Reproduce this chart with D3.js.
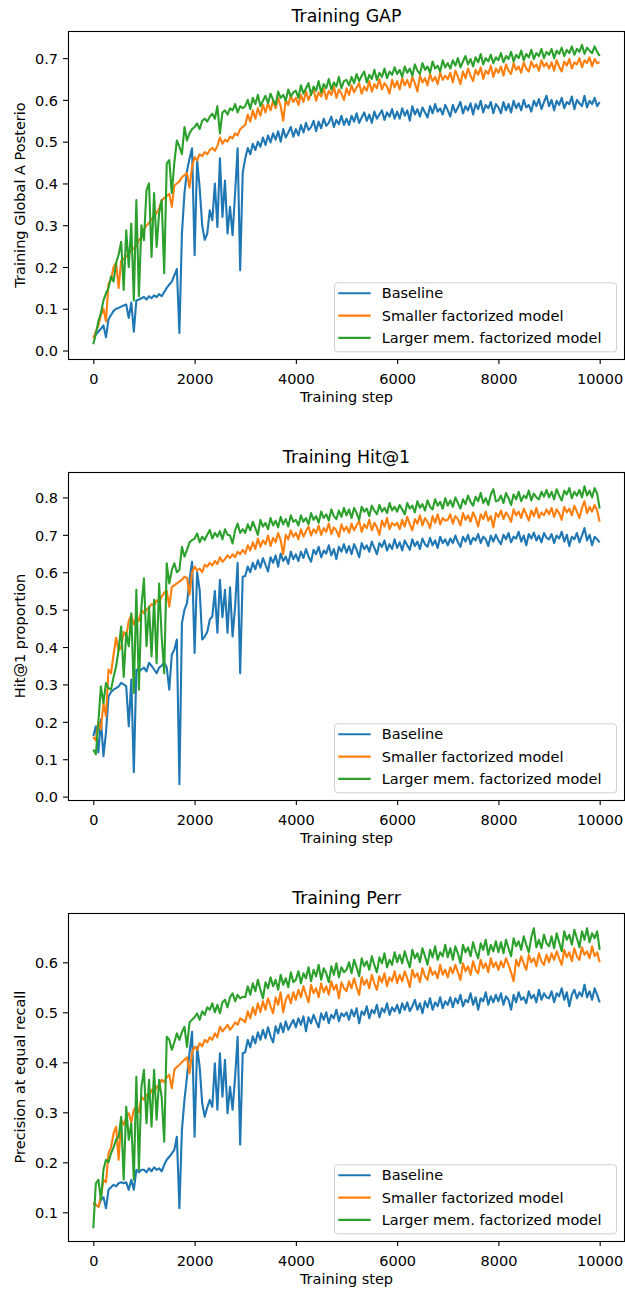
<!DOCTYPE html>
<html>
<head>
<meta charset="utf-8">
<script src="https://cdn.jsdelivr.net/npm/d3@7"></script>
<style>
body { margin: 0; background: #fff; }
text { font-family: "DejaVu Sans", sans-serif; fill: #000; }
</style>
</head>
<body>
<svg id="chart" width="625" height="1290"></svg>
<script>

// training steps, one value every 50 steps
var steps = d3.range(0, 10001, 50);
var seriesNames = ["Baseline", "Smaller factorized model", "Larger mem. factorized model"];
var seriesColors = ["#1f77b4", "#ff7f0e", "#2ca02c"];
var xTicks = [0, 2000, 4000, 6000, 8000, 10000];

// ---- Training GAP ----
var gapTicks = [0.0, 0.1, 0.2, 0.3, 0.4, 0.5, 0.6, 0.7];
var gapBaseline = [
.030,.038,.045,.052,.060,.032,.075,.085,.095,.100,.102,.105,.108,.110,.078,.115,.045,.120,.122,.125,
.128,.122,.130,.125,.132,.128,.135,.130,.140,.150,.158,.165,.180,.195,.042,.280,.377,.430,.460,.484,
.228,.455,.390,.300,.265,.280,.336,.312,.400,.296,.460,.320,.407,.280,.344,.276,.377,.484,.192,.425,
.460,.485,.470,.495,.480,.500,.488,.510,.492,.515,.498,.520,.505,.525,.500,.530,.510,.522,.535,.512,
.530,.515,.540,.522,.545,.528,.535,.550,.525,.548,.532,.555,.538,.545,.560,.535,.552,.542,.562,.540,
.555,.540,.562,.548,.568,.545,.558,.570,.550,.565,.545,.572,.555,.565,.575,.552,.570,.560,.578,.555,
.572,.555,.580,.562,.575,.550,.585,.565,.578,.560,.582,.570,.558,.585,.568,.590,.572,.580,.565,.588,
.575,.560,.588,.570,.582,.595,.568,.585,.575,.592,.565,.590,.578,.598,.570,.588,.580,.595,.568,.590,
.582,.568,.595,.575,.590,.570,.598,.580,.592,.575,.600,.582,.588,.572,.598,.585,.602,.578,.595,.610,
.585,.600,.575,.598,.588,.605,.580,.595,.590,.608,.578,.600,.592,.585,.610,.582,.598,.590,.605,.585,
.595];
var gapSmaller = [
.030,.045,.060,.085,.100,.070,.160,.170,.200,.210,.150,.215,.220,.225,.230,.240,.245,.250,.265,.270,
.290,.300,.305,.315,.320,.330,.340,.360,.365,.370,.375,.344,.395,.400,.405,.415,.420,.425,.390,.440,
.463,.455,.470,.465,.475,.470,.480,.485,.478,.490,.510,.495,.505,.500,.512,.508,.520,.515,.530,.535,
.540,.565,.548,.575,.555,.580,.562,.588,.570,.592,.575,.598,.580,.605,.585,.550,.600,.588,.610,.595,
.605,.588,.612,.595,.620,.600,.615,.625,.598,.618,.608,.628,.602,.622,.612,.632,.605,.625,.615,.600,
.628,.612,.635,.618,.630,.640,.615,.632,.622,.645,.620,.638,.628,.650,.625,.640,.632,.615,.648,.630,
.645,.625,.652,.635,.648,.630,.655,.640,.620,.658,.642,.652,.635,.662,.645,.655,.638,.665,.648,.658,
.650,.665,.642,.670,.655,.638,.668,.652,.675,.658,.645,.672,.660,.678,.650,.670,.662,.682,.655,.675,
.665,.680,.658,.685,.670,.662,.688,.672,.680,.665,.690,.675,.668,.692,.678,.685,.670,.695,.680,.688,
.675,.690,.670,.695,.680,.668,.692,.682,.698,.675,.690,.685,.700,.678,.695,.688,.702,.680,.698,.688,
.690];
var gapLarger = [
.015,.040,.070,.090,.120,.137,.150,.177,.165,.210,.230,.260,.145,.288,.200,.304,.120,.360,.130,.300,
.264,.384,.400,.224,.377,.248,.330,.360,.185,.448,.456,.377,.450,.503,.488,.470,.535,.503,.520,.530,
.535,.544,.530,.550,.555,.548,.560,.567,.555,.585,.520,.570,.575,.565,.580,.575,.590,.570,.585,.580,
.585,.600,.578,.605,.590,.612,.585,.598,.610,.592,.615,.600,.588,.620,.605,.612,.598,.625,.608,.618,
.622,.605,.635,.615,.628,.640,.612,.632,.622,.645,.618,.638,.628,.650,.625,.642,.632,.655,.628,.645,
.648,.635,.655,.640,.662,.645,.658,.668,.642,.660,.650,.672,.648,.665,.655,.675,.652,.668,.660,.678,
.662,.672,.655,.680,.665,.675,.658,.685,.670,.662,.688,.672,.680,.665,.692,.675,.682,.668,.695,.678,
.688,.675,.695,.682,.700,.678,.692,.705,.685,.698,.680,.702,.690,.710,.685,.700,.692,.708,.688,.702,
.695,.712,.690,.705,.698,.715,.692,.708,.700,.718,.695,.710,.702,.720,.698,.712,.705,.722,.700,.715,
.708,.722,.700,.718,.710,.725,.705,.720,.712,.728,.708,.722,.715,.732,.710,.725,.718,.712,.728,.715,
.705];

// ---- Training Hit@1 ----
var hitTicks = [0.0, 0.1, 0.2, 0.3, 0.4, 0.5, 0.6, 0.7, 0.8];
var hitBaseline = [
.162,.188,.118,.206,.108,.171,.268,.280,.286,.290,.295,.304,.300,.295,.188,.313,.065,.340,.335,.340,
.345,.335,.358,.350,.340,.330,.345,.350,.358,.345,.286,.380,.393,.420,.033,.464,.500,.517,.580,.628,
.384,.600,.553,.420,.428,.440,.473,.482,.550,.438,.580,.480,.553,.438,.560,.428,.508,.625,.330,.588,
.590,.615,.600,.625,.608,.632,.612,.638,.620,.602,.640,.625,.645,.615,.650,.630,.642,.622,.655,.635,
.648,.630,.655,.638,.662,.642,.628,.660,.648,.668,.640,.658,.650,.672,.645,.662,.635,.668,.655,.675,
.652,.670,.648,.675,.660,.640,.678,.662,.672,.655,.682,.665,.648,.678,.668,.685,.658,.675,.662,.688,
.665,.680,.658,.685,.672,.660,.688,.670,.682,.662,.690,.675,.668,.692,.672,.685,.665,.695,.678,.688,
.672,.690,.678,.698,.680,.668,.695,.682,.700,.675,.692,.685,.702,.678,.695,.688,.670,.698,.682,.700,
.685,.675,.700,.688,.705,.680,.695,.690,.708,.682,.698,.672,.702,.690,.706,.685,.698,.680,.705,.692,
.688,.702,.678,.698,.690,.708,.682,.700,.670,.695,.688,.705,.680,.698,.718,.685,.700,.672,.695,.688,
.680];
var hitSmaller = [
.160,.150,.200,.180,.250,.215,.340,.330,.380,.425,.390,.400,.440,.430,.470,.485,.460,.480,.470,.500,
.490,.500,.505,.515,.510,.525,.520,.535,.545,.550,.508,.560,.565,.570,.575,.580,.588,.585,.540,.600,
.615,.605,.610,.600,.620,.615,.625,.618,.630,.622,.640,.628,.635,.645,.638,.648,.640,.655,.648,.660,
.650,.672,.658,.680,.662,.690,.668,.685,.675,.698,.670,.692,.680,.705,.685,.648,.700,.688,.712,.695,
.705,.688,.715,.695,.710,.722,.698,.715,.705,.725,.700,.718,.708,.730,.702,.720,.712,.695,.728,.710,
.722,.705,.730,.712,.725,.738,.708,.728,.718,.740,.712,.732,.720,.700,.738,.722,.745,.715,.732,.725,
.732,.715,.740,.722,.748,.728,.712,.742,.730,.752,.725,.745,.735,.718,.750,.732,.755,.728,.745,.738,
.740,.755,.730,.750,.742,.725,.758,.740,.752,.735,.760,.745,.722,.755,.742,.762,.738,.750,.720,.758,
.748,.765,.742,.760,.750,.735,.768,.752,.762,.745,.770,.755,.738,.765,.750,.772,.745,.760,.752,.768,
.755,.772,.748,.768,.758,.740,.775,.760,.770,.752,.778,.762,.745,.772,.790,.758,.775,.762,.780,.765,
.735];
var hitLarger = [
.126,.113,.200,.295,.250,.304,.290,.286,.320,.348,.393,.455,.320,.438,.402,.490,.277,.553,.286,.508,
.584,.402,.508,.375,.526,.357,.570,.428,.330,.624,.570,.606,.624,.600,.606,.668,.642,.660,.680,.686,
.690,.704,.680,.695,.686,.700,.713,.690,.705,.695,.710,.688,.715,.700,.698,.677,.712,.730,.705,.715,
.705,.728,.712,.735,.718,.700,.740,.722,.732,.715,.745,.725,.738,.720,.748,.728,.742,.722,.752,.735,
.740,.725,.752,.735,.745,.728,.758,.740,.750,.732,.762,.745,.755,.738,.768,.750,.742,.765,.748,.772,
.752,.768,.745,.772,.758,.740,.775,.762,.770,.750,.778,.765,.755,.780,.762,.772,.758,.785,.765,.775,
.762,.780,.768,.755,.785,.770,.778,.760,.790,.772,.782,.765,.792,.775,.768,.795,.778,.788,.770,.798,
.778,.792,.775,.800,.785,.770,.795,.782,.805,.788,.778,.802,.790,.812,.785,.798,.780,.808,.822,.790,
.792,.805,.785,.812,.798,.780,.808,.795,.815,.790,.805,.798,.818,.792,.810,.800,.795,.815,.802,.820,
.800,.815,.795,.822,.805,.792,.818,.808,.825,.798,.815,.805,.820,.800,.830,.805,.818,.800,.825,.810,
.770];

// ---- Training Perr ----
var perrTicks = [0.1, 0.2, 0.3, 0.4, 0.5, 0.6];
var perrBaseline = [
.118,.115,.111,.125,.130,.108,.145,.150,.155,.152,.158,.160,.158,.160,.145,.165,.145,.185,.180,.185,
.185,.180,.188,.182,.190,.185,.188,.182,.195,.205,.211,.218,.225,.251,.108,.265,.325,.371,.420,.461,
.251,.431,.391,.318,.291,.310,.325,.311,.398,.305,.418,.331,.405,.298,.351,.305,.371,.451,.235,.418,
.420,.445,.430,.452,.438,.460,.445,.465,.448,.470,.452,.440,.472,.458,.478,.460,.482,.465,.475,.485,
.470,.488,.475,.492,.462,.490,.478,.495,.482,.470,.498,.485,.500,.478,.495,.488,.505,.482,.498,.492,
.500,.485,.505,.492,.508,.478,.502,.495,.512,.488,.505,.498,.515,.490,.508,.500,.518,.495,.510,.502,
.515,.498,.518,.505,.520,.502,.512,.525,.505,.518,.498,.522,.510,.528,.505,.520,.512,.530,.508,.522,
.515,.530,.510,.528,.518,.535,.512,.525,.520,.538,.515,.530,.505,.528,.522,.540,.515,.532,.520,.535,
.522,.538,.515,.532,.525,.505,.535,.520,.540,.525,.530,.518,.542,.528,.535,.520,.545,.525,.538,.530,
.528,.542,.520,.538,.532,.548,.525,.540,.512,.535,.545,.528,.540,.532,.555,.530,.542,.525,.548,.535,
.520];
var perrSmaller = [
.120,.115,.111,.130,.165,.160,.218,.230,.258,.271,.205,.285,.275,.290,.298,.280,.305,.311,.300,.331,
.325,.335,.330,.345,.340,.350,.355,.365,.360,.370,.375,.348,.385,.391,.395,.400,.405,.410,.378,.420,
.431,.425,.438,.432,.445,.440,.450,.445,.458,.450,.471,.462,.468,.475,.465,.471,.480,.475,.488,.485,
.480,.502,.488,.510,.495,.518,.500,.522,.505,.528,.512,.498,.530,.515,.540,.500,.525,.535,.518,.540,
.525,.545,.530,.552,.535,.520,.555,.538,.548,.530,.558,.540,.552,.535,.562,.545,.555,.528,.560,.548,
.542,.562,.548,.568,.550,.535,.570,.555,.565,.548,.575,.558,.545,.572,.560,.578,.552,.570,.562,.582,
.558,.575,.562,.582,.568,.550,.585,.570,.578,.560,.588,.572,.565,.590,.575,.582,.568,.595,.575,.585,
.570,.590,.578,.595,.580,.565,.598,.582,.592,.575,.602,.585,.578,.605,.588,.598,.580,.608,.590,.600,
.585,.602,.590,.608,.595,.580,.562,.605,.592,.612,.598,.585,.615,.600,.608,.592,.618,.602,.595,.615,
.600,.618,.605,.622,.608,.595,.625,.610,.620,.602,.628,.612,.605,.630,.615,.622,.608,.632,.612,.620,
.600];
var perrLarger = [
.068,.158,.165,.125,.185,.205,.200,.218,.230,.245,.251,.291,.165,.311,.245,.278,.165,.371,.185,.351,
.385,.278,.365,.271,.385,.285,.365,.330,.241,.451,.445,.425,.440,.458,.445,.460,.471,.431,.480,.485,
.490,.498,.485,.502,.495,.510,.505,.518,.500,.515,.498,.520,.525,.510,.530,.538,.522,.535,.528,.531,
.530,.552,.535,.558,.542,.565,.545,.528,.560,.548,.570,.552,.565,.545,.575,.555,.568,.550,.580,.560,
.565,.582,.558,.578,.568,.590,.562,.585,.572,.595,.565,.588,.578,.560,.592,.575,.598,.570,.590,.580,
.585,.600,.578,.605,.590,.572,.608,.592,.602,.585,.612,.595,.580,.610,.598,.618,.590,.605,.595,.620,
.600,.615,.598,.622,.605,.590,.625,.608,.618,.600,.628,.612,.595,.625,.610,.632,.605,.620,.612,.635,
.610,.628,.605,.632,.618,.598,.635,.620,.630,.612,.640,.622,.608,.638,.625,.645,.615,.635,.622,.642,
.620,.640,.618,.645,.628,.612,.648,.632,.642,.625,.652,.635,.620,.650,.668,.630,.645,.628,.655,.638,
.632,.652,.628,.658,.640,.622,.662,.645,.655,.635,.665,.648,.630,.662,.645,.668,.640,.658,.648,.662,
.625];

var panels = [
    { title: "Training GAP", ylabel: "Training Global A Posterio",
      series: [gapBaseline, gapSmaller, gapLarger], ticks: gapTicks, yDomain: [-0.0203, 0.765] },
    { title: "Training Hit@1", ylabel: "Hit@1 proportion",
      series: [hitBaseline, hitSmaller, hitLarger], ticks: hitTicks, yDomain: [-0.009, 0.868] },
    { title: "Training Perr", ylabel: "Precision at equal recall",
      series: [perrBaseline, perrSmaller, perrLarger], ticks: perrTicks, yDomain: [0.0426, 0.6986] }
];

var fontSize = 14.5;
var left = 68, right = 625, plotH = 328, firstTop = 31, panelGap = 441;

var svg = d3.select("#chart");

var x = d3.scaleLinear().domain([-500, 10500]).range([left, right]);

panels.forEach(function (p, k) {

    var top = firstTop + panelGap * k;
    var bottom = top + plotH;

    var y = d3.scaleLinear().domain(p.yDomain).range([bottom, top]);

    var g = svg.append("g").attr("class", "panel");

    // lines, baseline first so the larger model sits on top
    var line = d3.line()
        .x(function (d, i) { return x(steps[i]); })
        .y(function (d) { return y(d); });

    p.series.forEach(function (s, j) {
        g.append("path")
            .datum(s)
            .attr("d", line)
            .attr("fill", "none")
            .attr("stroke", seriesColors[j])
            .attr("stroke-width", 2.1)
            .attr("stroke-linejoin", "round");
    });

    // axes
    var xAxis = g.append("g")
        .attr("transform", "translate(0," + bottom + ")")
        .call(d3.axisBottom(x).tickValues(xTicks).tickFormat(d3.format("d")).tickSize(5).tickPadding(5));

    var yAxis = g.append("g")
        .attr("transform", "translate(" + left + ",0)")
        .call(d3.axisLeft(y).tickValues(p.ticks).tickFormat(d3.format(".1f")).tickSize(5).tickPadding(5));

    [xAxis, yAxis].forEach(function (a) {
        a.select(".domain").remove();
        a.selectAll(".tick line").attr("stroke", "#000").attr("stroke-width", 1.1);
        a.selectAll(".tick text")
            .attr("font-family", "DejaVu Sans")
            .attr("font-size", fontSize)
            .attr("fill", "#000");
    });
    xAxis.selectAll(".tick text").attr("dy", "1.05em");
    yAxis.selectAll(".tick text").attr("dy", "0.36em");

    // frame
    g.append("rect")
        .attr("x", left + 0.5)
        .attr("y", top + 0.5)
        .attr("width", right - left - 1)
        .attr("height", plotH)
        .attr("fill", "none")
        .attr("stroke", "#000")
        .attr("stroke-width", 1.1);

    // title and axis labels
    g.append("text")
        .attr("x", (left + right) / 2)
        .attr("y", top - 9.5)
        .attr("text-anchor", "middle")
        .attr("font-size", 17.4)
        .text(p.title);

    g.append("text")
        .attr("x", (left + right) / 2)
        .attr("y", bottom + 43)
        .attr("text-anchor", "middle")
        .attr("font-size", fontSize)
        .text("Training step");

    g.append("text")
        .attr("transform", "translate(25," + (top + plotH / 2) + ") rotate(-90)")
        .attr("text-anchor", "middle")
        .attr("font-size", fontSize)
        .text(p.ylabel);

    // legend
    var lg = g.append("g").attr("transform", "translate(334," + (top + 251.3) + ")");

    lg.append("rect")
        .attr("x", 0.5).attr("y", 0.5)
        .attr("width", 282).attr("height", 69)
        .attr("rx", 3)
        .attr("fill", "#fff").attr("fill-opacity", 0.8)
        .attr("stroke", "#d0d0d0");

    seriesNames.forEach(function (name, j) {
        var ry = 11 + j * 22.3;
        lg.append("line")
            .attr("x1", 4.3).attr("x2", 36.7)
            .attr("y1", ry).attr("y2", ry)
            .attr("stroke", seriesColors[j])
            .attr("stroke-width", 2.1);
        lg.append("text")
            .attr("x", 47.7)
            .attr("y", ry + 5.2)
            .attr("font-size", fontSize)
            .text(name);
    });
});

</script>
</body>
</html>
